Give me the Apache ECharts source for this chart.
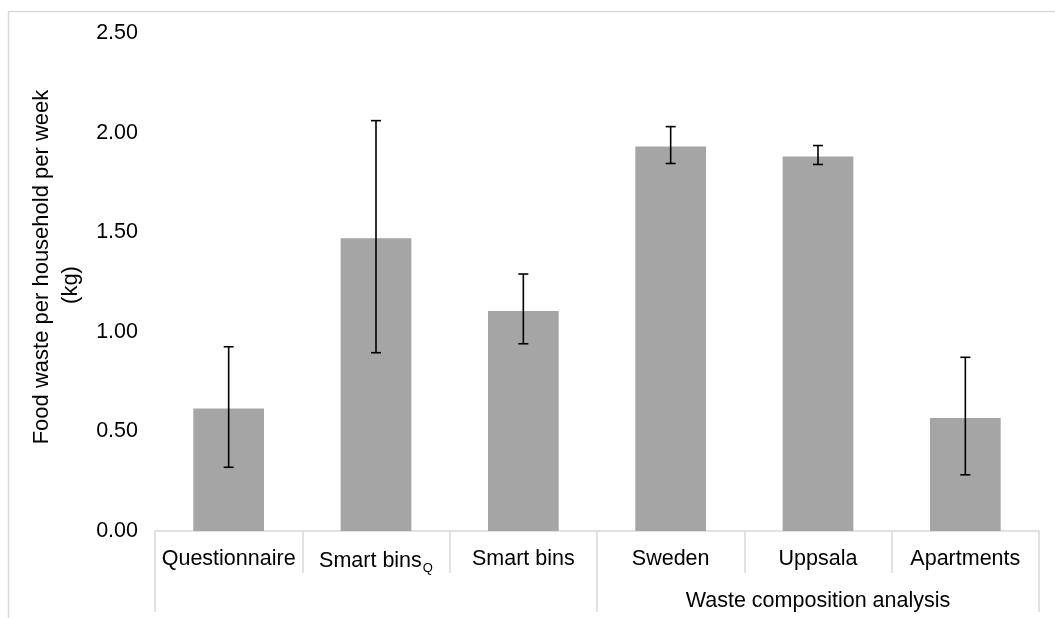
<!DOCTYPE html>
<html>
<head>
<meta charset="utf-8">
<script src="https://cdn.jsdelivr.net/npm/echarts@6/dist/echarts.min.js"></script>
<style>html,body{margin:0;padding:0;background:#fff}#c{width:1055px;height:618px}</style>
</head>
<body>
<div id="c"></div>
<script>
const categories = ['Questionnaire', 'Smart bins_Q', 'Smart bins', 'Sweden', 'Uppsala', 'Apartments'];
const groups = ['', 'Waste composition analysis'];
const values = [0.615, 1.47, 1.105, 1.93, 1.88, 0.567];
const errUp = [0.31, 0.59, 0.185, 0.10, 0.055, 0.305];
const errDown = [0.295, 0.575, 0.165, 0.085, 0.04, 0.285];
const yTicks = [0, 0.5, 1.0, 1.5, 2.0, 2.5];

const chart = echarts.init(document.getElementById('c'), null, {renderer: 'canvas'});
const FONT = 'Liberation Sans, Arial, sans-serif';
const FS = 21.5;
const errData = categories.map((c, i) => [i, values[i] + errUp[i], values[i] - errDown[i]]);

chart.setOption({
  animation: false,
  backgroundColor: '#fff',
  graphic: [{
    type: 'rect', shape: {x: 8.5, y: 11.5, width: 1200, height: 800},
    style: {fill: 'none', stroke: '#d9d9d9', lineWidth: 1.5}, silent: true, z: -10
  }],
  grid: {left: 155, right: 16, top: 33, bottom: 87},
  xAxis: [{
    type: 'category', data: categories, position: 'bottom',
    axisLine: {show: true, lineStyle: {color: '#d9d9d9', width: 1.5}},
    axisTick: {show: true, interval: 0, length: 42, lineStyle: {color: '#d9d9d9', width: 1.5}},
    axisLabel: {
      interval: 0, margin: 17, color: '#000', fontFamily: FONT, fontSize: FS,
      formatter: v => v === 'Smart bins_Q' ? '{n|Smart bins}{s|Q}' : v,
      rich: {n: {fontFamily: FONT, fontSize: FS, color: '#000'},
             s: {fontFamily: FONT, fontSize: 13, color: '#000', padding: [14, 0, 0, 1]}}
    }
  }, {
    type: 'category', data: groups, position: 'bottom', offset: 0,
    axisLine: {show: false},
    axisTick: {show: true, interval: 0, length: 81, lineStyle: {color: '#d9d9d9', width: 1.5}},
    axisLabel: {interval: 0, margin: 59, color: '#000', fontFamily: FONT, fontSize: FS}
  }],
  yAxis: {
    type: 'value', min: 0, max: 2.5, interval: 0.5,
    name: '{a|Food waste per household per week}\n{b|(kg)}',
    nameLocation: 'middle', nameRotate: 90, nameGap: 62,
    nameTextStyle: {color: '#000', fontFamily: FONT, fontSize: 22, lineHeight: 29,
      padding: [0, 0, 0, 30],
      rich: {a: {fontFamily: FONT, fontSize: 22, lineHeight: 29, color: '#000'},
             b: {fontFamily: FONT, fontSize: 22, lineHeight: 29, color: '#000', padding: [0, 36, 0, 0]}}},
    axisLine: {show: false}, axisTick: {show: false}, splitLine: {show: false},
    axisLabel: {margin: 17, color: '#000', fontFamily: FONT, fontSize: FS,
      formatter: v => v.toFixed(2)}
  },
  series: [{
    type: 'bar', data: values, barWidth: '48%',
    itemStyle: {color: '#a5a5a5'}
  }, {
    type: 'custom', data: errData,
    renderItem: (params, api) => {
      const x = api.value(0);
      const hi = api.coord([x, api.value(1)]);
      const lo = api.coord([x, api.value(2)]);
      const cap = 5;
      const st = {stroke: '#000', lineWidth: 1.6};
      return {type: 'group', children: [
        {type: 'line', shape: {x1: hi[0], y1: hi[1], x2: lo[0], y2: lo[1]}, style: st},
        {type: 'line', shape: {x1: hi[0] - cap, y1: hi[1], x2: hi[0] + cap, y2: hi[1]}, style: st},
        {type: 'line', shape: {x1: lo[0] - cap, y1: lo[1], x2: lo[0] + cap, y2: lo[1]}, style: st}
      ]};
    },
    z: 10
  }]
});
</script>
</body>
</html>
